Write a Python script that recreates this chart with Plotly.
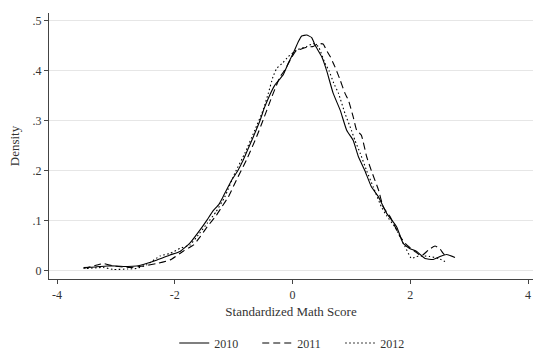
import plotly.graph_objects as go

# Kernel density estimates of standardized math scores, by year
x_2010 = [-3.55, -3.35, -3.15, -3.0, -2.8, -2.65, -2.48, -2.3, -2.08, -1.91, -1.74, -1.57,
          -1.45, -1.35, -1.25, -1.18, -1.03, -0.93, -0.835, -0.75, -0.665, -0.55, -0.48,
          -0.41, -0.30, -0.21, -0.156, -0.07, 0.014, 0.1, 0.156, 0.24, 0.326, 0.382, 0.495,
          0.58, 0.69, 0.81, 0.92, 1.03, 1.12, 1.23, 1.34, 1.46, 1.6, 1.77, 1.88, 1.99, 2.11,
          2.25, 2.39, 2.53, 2.62, 2.76]
d_2010 = [0.007, 0.008, 0.010, 0.010, 0.009, 0.010, 0.015, 0.022, 0.032, 0.039, 0.056, 0.082,
          0.102, 0.120, 0.133, 0.148, 0.182, 0.200, 0.222, 0.245, 0.268, 0.301, 0.325,
          0.345, 0.371, 0.384, 0.392, 0.415, 0.435, 0.458, 0.469, 0.471, 0.466, 0.451, 0.428,
          0.400, 0.355, 0.321, 0.281, 0.261, 0.228, 0.200, 0.168, 0.148, 0.115, 0.088, 0.055,
          0.045, 0.039, 0.025, 0.023, 0.030, 0.033, 0.027]

x_2011 = [-3.55, -3.32, -3.21, -3.04, -2.76, -2.53, -2.3, -2.08, -1.85, -1.68, -1.57, -1.45,
          -1.3, -1.2, -1.09, -0.95, -0.78, -0.61, -0.5, -0.35, -0.21, -0.13, -0.04, 0.05, 0.15,
          0.25, 0.35, 0.44, 0.52, 0.58, 0.64, 0.72, 0.81, 0.89, 0.95, 1.03, 1.09, 1.17, 1.26,
          1.34, 1.46, 1.54, 1.66, 1.83, 1.94, 2.08, 2.19, 2.31, 2.42, 2.5, 2.56, 2.62]
d_2011 = [0.005, 0.012, 0.015, 0.010, 0.007, 0.010, 0.015, 0.022, 0.040, 0.052, 0.068, 0.088,
          0.110, 0.128, 0.148, 0.182, 0.222, 0.268, 0.301, 0.348, 0.388, 0.401, 0.421, 0.438,
          0.443, 0.447, 0.448, 0.454, 0.453, 0.440, 0.428, 0.408, 0.381, 0.355, 0.341, 0.308,
          0.281, 0.271, 0.228, 0.200, 0.162, 0.128, 0.108, 0.068, 0.052, 0.039, 0.030, 0.042,
          0.050, 0.045, 0.035, 0.028]

x_2012 = [-3.49, -3.21, -3.04, -2.8, -2.65, -2.48, -2.25, -2.08, -1.91, -1.74, -1.6, -1.45,
          -1.3, -1.15, -0.98, -0.81, -0.64, -0.5, -0.41, -0.33, -0.27, -0.17, -0.07, 0.07,
          0.24, 0.35, 0.44, 0.55, 0.62, 0.7, 0.78, 0.89, 1.0, 1.06, 1.15, 1.26, 1.37, 1.51,
          1.6, 1.74, 1.91, 2.02, 2.11, 2.22, 2.33, 2.48, 2.59]
d_2012 = [0.005, 0.007, 0.003, 0.004, 0.005, 0.012, 0.030, 0.035, 0.045, 0.052, 0.072, 0.095,
          0.118, 0.148, 0.195, 0.235, 0.281, 0.321, 0.355, 0.388, 0.404, 0.415, 0.428, 0.441,
          0.448, 0.454, 0.448, 0.415, 0.400, 0.375, 0.355, 0.315, 0.281, 0.261, 0.235, 0.200,
          0.168, 0.128, 0.110, 0.088, 0.049, 0.025, 0.029, 0.030, 0.029, 0.025, 0.019]

x_ticks = [-4, -2, 0, 2, 4]
y_ticks = [0, 0.1, 0.2, 0.3, 0.4, 0.5]
y_tick_text = ["0", ".1", ".2", ".3", ".4", ".5"]

FONT = "Liberation Serif"
INK = "#333333"

fig = go.Figure()
series = [
    ("2010", x_2010, d_2010, "solid"),
    ("2011", x_2011, d_2011, "7px,4px"),
    ("2012", x_2012, d_2012, "1.5px,2.5px"),
]
for name, xs, ys, dash in series:
    fig.add_trace(go.Scatter(
        x=xs, y=ys, name=name, mode="lines",
        line=dict(color="black", width=1.1, dash=dash, shape="spline", smoothing=0.4),
    ))

fig.update_layout(
    width=535, height=350,
    margin=dict(l=49, r=2, t=13, b=71, autoexpand=False),
    paper_bgcolor="white", plot_bgcolor="white",
    font=dict(family=FONT, size=12, color=INK),
    showlegend=True,
    legend=dict(
        orientation="h", x=0.516, xanchor="center",
        yref="container", y=(350 - 343) / 350, yanchor="middle",
        font=dict(family=FONT, size=12, color=INK),
        itemwidth=30, tracegroupgap=0, entrywidth=38,
    ),
)
fig.update_xaxes(
    automargin=False,
    range=[-4.136, 4.085], tickvals=x_ticks, ticktext=[str(v) for v in x_ticks],
    showgrid=False, zeroline=False,
    showline=True, linecolor="#444444", linewidth=1.3,
    ticks="outside", ticklen=4, tickcolor="#444444", tickwidth=1,
    tickfont=dict(family=FONT, size=12, color=INK),
    title=dict(text="Standardized Math Score", font=dict(family=FONT, size=13, color=INK),
               standoff=6),
)
fig.update_yaxes(
    automargin=False,
    range=[-0.016, 0.515], tickvals=y_ticks, ticktext=y_tick_text,
    showgrid=True, gridcolor="#e6e6e6", gridwidth=1, zeroline=False,
    showline=True, linecolor="#444444", linewidth=1.3,
    ticks="outside", ticklen=4, tickcolor="#444444", tickwidth=1,
    tickfont=dict(family=FONT, size=12, color=INK),
    title=dict(text="Density", font=dict(family=FONT, size=13, color=INK), standoff=9),
)

fig.write_html("out.html")
